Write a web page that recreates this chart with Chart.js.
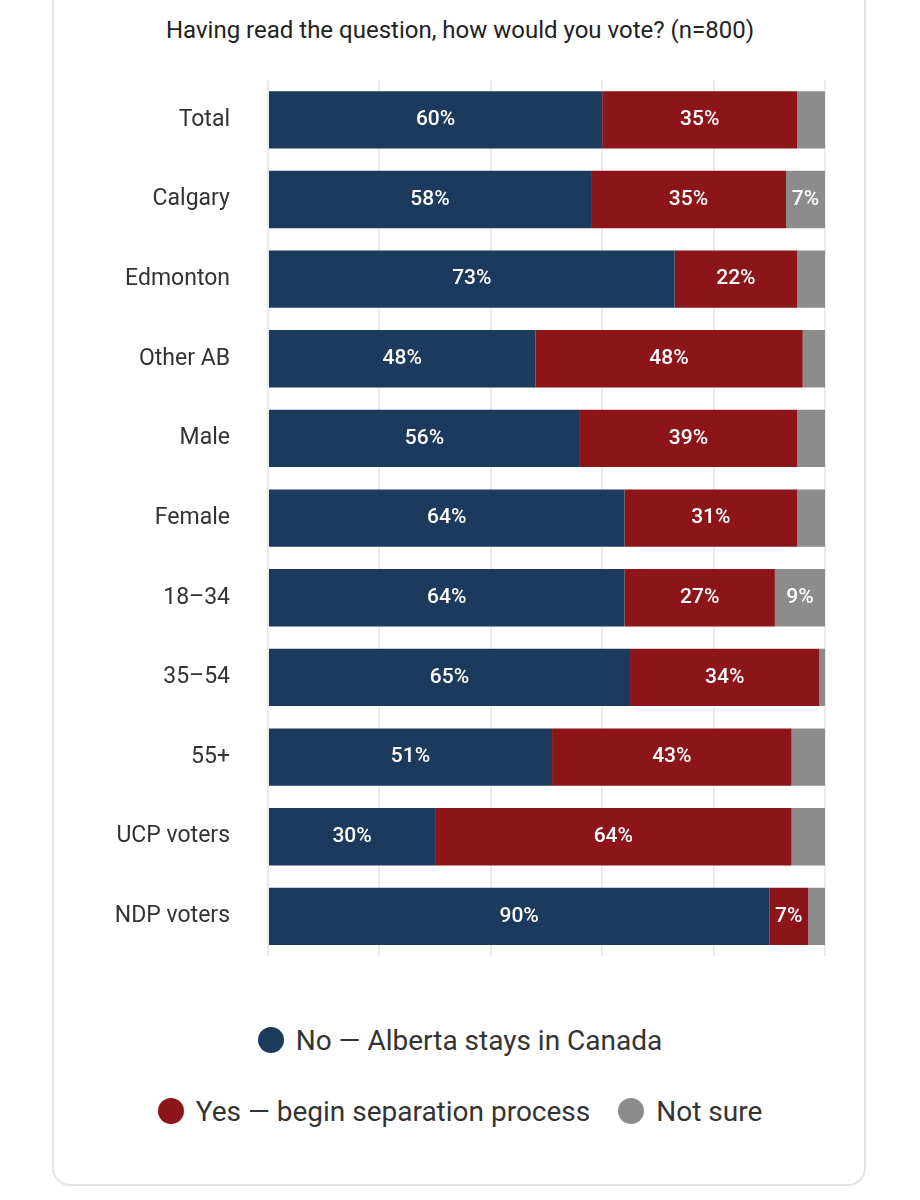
<!DOCTYPE html>
<html>
<head>
<meta charset="utf-8">
<script src="https://cdn.jsdelivr.net/npm/chart.js@4"></script>
<style>
  body { margin: 0; background: #fff; font-family: Roboto, "Noto Sans", sans-serif; }
  #card { position: absolute; left: 52px; top: -20px; width: 814px; height: 1206px;
          border: 2px solid #e3e3e3; border-radius: 18px; box-sizing: border-box; }
  #title { position: absolute; left: 0; width: 920px; top: 16px; text-align: center;
           font-size: 24px; color: #222; }
  #wrap { position: absolute; left: 0; top: 0; width: 920px; height: 1000px; }
  .legend { position: absolute; left: 0; width: 920px; text-align: center; font-size: 28px; color: #333; }
  .dot { display: inline-block; width: 26px; height: 26px; border-radius: 50%; vertical-align: -3px; margin-right: 12px; }
  .item { margin: 0 14px; }
</style>
</head>
<body>
<div id="card"></div>
<div id="title">Having read the question, how would you vote? (n=800)</div>
<div id="wrap"><canvas id="chart"></canvas></div>
<div class="legend" style="top:1024px"><span class="item"><span class="dot" style="background:#1b3a5c"></span>No — Alberta stays in Canada</span></div>
<div class="legend" style="top:1095px"><span class="item"><span class="dot" style="background:#8b1518"></span>Yes — begin separation process</span><span class="item"><span class="dot" style="background:#8c8c8c"></span>Not sure</span></div>
<script>
const groups = ["Total", "Calgary", "Edmonton", "Other AB", "Male", "Female", "18–34", "35–54", "55+", "UCP voters", "NDP voters"];
const noValues = [60, 58, 73, 48, 56, 64, 64, 65, 51, 30, 90];
const yesValues = [35, 35, 22, 48, 39, 31, 27, 34, 43, 64, 7];
const notSureValues = [5, 7, 5, 4, 5, 5, 9, 1, 6, 6, 3];

// white percentage labels inside segments (only when wide enough)
const barLabels = {
  id: "barLabels",
  afterDatasetsDraw(chart) {
    const ctx = chart.ctx;
    ctx.save();
    ctx.fillStyle = "#fff";
    ctx.font = "500 21px Roboto, sans-serif";
    ctx.textAlign = "center";
    ctx.textBaseline = "middle";
    chart.data.datasets.forEach((ds, i) => {
      chart.getDatasetMeta(i).data.forEach((bar, j) => {
        if (ds.data[j] < 7) return;
        ctx.fillText(ds.data[j] + "%", (bar.x + bar.base) / 2, bar.y);
      });
    });
    ctx.restore();
  }
};

new Chart(document.getElementById("chart"), {
  type: "bar",
  data: {
    labels: groups,
    datasets: [
      { label: "No — Alberta stays in Canada", data: noValues, backgroundColor: "#1b3a5c" },
      { label: "Yes — begin separation process", data: yesValues, backgroundColor: "#8b1518" },
      { label: "Not sure", data: notSureValues, backgroundColor: "#8c8c8c" }
    ]
  },
  options: {
    indexAxis: "y",
    responsive: true,
    maintainAspectRatio: false,
    animation: false,
    layout: { padding: { top: 80, right: 95, bottom: 15, left: 0 } },
    datasets: { bar: { barPercentage: 0.72, categoryPercentage: 1, borderColor: "#fff", borderWidth: { left: 1, right: 0, top: 0, bottom: 0 } } },
    scales: {
      x: {
        stacked: true, min: 0, max: 100,
        ticks: { display: false, stepSize: 20 },
        grid: { color: "#ebebeb", lineWidth: 2, drawTicks: false },
        border: { display: false }
      },
      y: {
        stacked: true,
        afterFit(scale) { scale.width = 268; },
        ticks: { color: "#333", font: { size: 23, family: "Roboto, sans-serif" }, padding: 30 },
        grid: { display: false },
        border: { display: false }
      }
    },
    plugins: { legend: { display: false }, tooltip: { enabled: false } }
  },
  plugins: [barLabels]
});
</script>
</body>
</html>
